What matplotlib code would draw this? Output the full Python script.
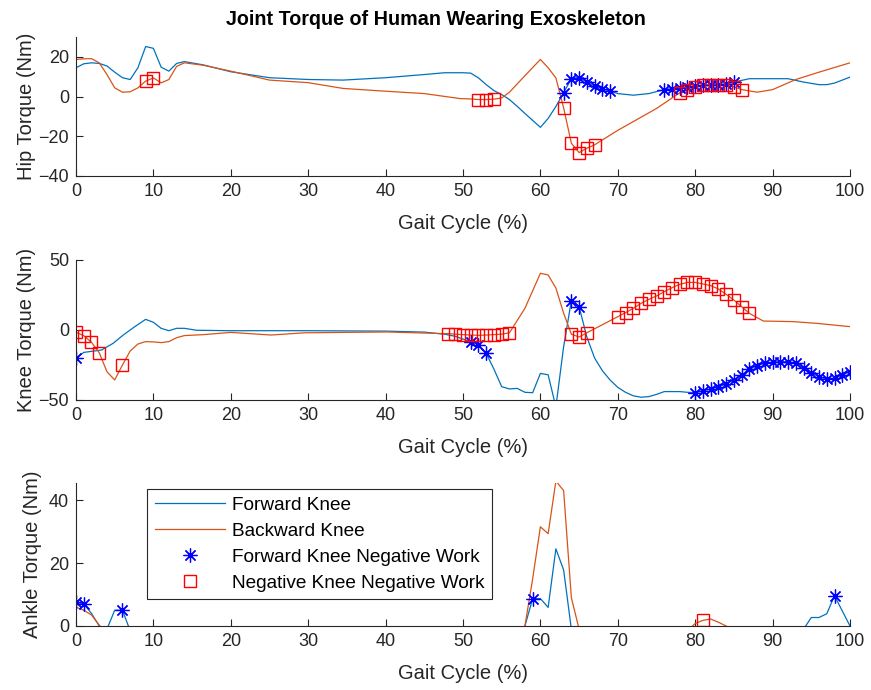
import numpy as np
import matplotlib.pyplot as plt

# MATLAB-ish colours
C_FWD = "#0072BD"
C_BWD = "#D95319"

# ---- hip (top panel) ----
hip_fwd_x = [0, 1, 2, 3, 4, 5, 6, 7, 8, 9, 10, 11, 12, 13, 14, 16.4, 20, 25, 30, 34.5, 40, 45, 47.6,
             50, 51, 52, 53, 54, 55, 56, 57, 58, 59, 60, 61, 62, 63, 64, 65, 66, 67, 68, 69, 70,
             72, 74, 76, 77, 78, 79, 80, 81, 82, 83, 84, 85, 87, 90, 92, 94, 96, 97, 98, 100]
hip_fwd_y = [14.5, 16.5, 17.0, 16.7, 15.4, 12.3, 9.5, 8.6, 14.5, 25.2, 24.3, 14.8, 12.8, 16.7, 17.6, 16, 12.5,
             9.5, 8.6, 8.3, 9.5, 11.1, 12.0, 12.0, 11.8, 9.4, 6.0, 3.0, 1.0, -1.5, -4.9, -8.5, -12,
             -15.5, -11, -5, 1.9, 9.0, 9.5, 7.3, 5.2, 3.9, 2.7, 1.5, 0.7, 1.5, 3.5, 3.9, 4.4, 4.9, 5.4,
             5.7, 5.7, 6.0, 6.4, 7.3, 9.0, 9.0, 9.0, 7.3, 6.0, 6.0, 6.8, 9.8]
hip_bwd_x = [0, 1, 2, 3, 4, 5, 6, 7, 8, 9, 10, 11, 12, 13, 14, 16.4, 20, 25, 30, 34.5, 40, 45, 49.6,
             51, 52, 53, 54, 55, 56, 58, 60, 61, 62, 63, 64, 65, 66, 67, 70, 75, 78, 79, 80, 81, 82,
             83, 84, 85, 86, 88, 90, 93, 96, 100]
hip_bwd_y = [18.7, 19.0, 19.1, 17.0, 11.1, 4.4, 2.2, 2.4, 4.4, 7.8, 9.4, 6.9, 8.6, 15.2, 17.0, 15.8, 12.8,
             8.3, 7.0, 4.1, 2.7, 1.5, -1.0, -1.2, -1.5, -1.5, -1.3, -0.7, 2.2, 10.5, 18.7, 14.5, 9.4,
             -5.7, -23.5, -28.2, -26.0, -24.3, -17, -6, 1.9, 3.2, 4.7, 5.6, 6.0, 6.0, 5.6, 4.9, 3.5,
             2.2, 3.5, 8.6, 12.3, 17.0]
hip_star_x = [63, 64, 65, 66, 67, 68, 69, 76, 77, 78, 79, 80, 81, 82, 83, 84, 85]
hip_star_y = [1.9, 9.0, 9.5, 7.3, 5.2, 3.9, 2.7, 3.5, 3.9, 4.4, 4.9, 5.4, 5.7, 5.7, 6.0, 6.4, 7.3]
hip_sq_x = [9, 10, 52, 53, 54, 63, 64, 65, 66, 67, 78, 79, 80, 81, 82, 83, 84, 85, 86]
hip_sq_y = [7.8, 9.4, -1.5, -1.5, -1.3, -5.7, -23.5, -28.2, -26.0, -24.3, 1.9, 3.2, 4.7, 5.6, 6.0, 6.0,
            5.6, 4.9, 3.5]

# ---- knee (middle panel) ----
knee_fwd_x = [0, 1, 3.3, 4.8, 6.1, 7.6, 9, 10, 11, 12, 13, 14, 15.6, 20, 30, 40, 45, 47.7, 49, 50,
              51, 52, 53, 54, 55, 56, 57, 58, 59, 60, 61, 62, 63, 64, 65, 66, 67, 68, 69, 70, 71,
              72, 73, 74, 75, 76, 78, 79, 80, 81, 82, 83, 84, 85, 86, 87, 88, 89, 90, 91, 92, 93,
              94, 95, 96, 97, 98, 99, 100]
knee_fwd_y = [-20.2, -16, -14.3, -9.5, -3.6, 2.4, 7.6, 5.5, 1.2, -0.5, 1.2, 1.2, -0.2, -0.5, -0.5, -0.8,
              -1.5, -3.1, -4.5, -6.5, -8.3, -10.7, -16.7, -28, -40.5, -42.1, -41.7, -44.5, -44.8, -31,
              -32, -55, -12, 21.0, 16.7, -5, -20, -29, -35.7, -41, -44.5, -47, -48, -47.6, -46, -44,
              -44, -44.5, -44.8, -43.3, -42.1, -40.5, -38.6, -35.7, -32.1, -28.1, -25.5, -23.8, -23.1,
              -22.6, -22.6, -23.8, -26.9, -30.9, -33.3, -35.2, -34.5, -32.1, -29.8]
knee_bwd_x = [0, 1, 2, 3, 4, 5, 6, 7, 8, 9, 10, 11, 12, 13, 14, 16.5, 20, 25.2, 29.5, 40.2, 47.7,
              48, 49, 50, 51, 52, 53, 54, 55, 56, 58, 60, 61, 62, 63, 64, 65, 66, 70, 71, 72, 73,
              74, 75, 76, 77, 78, 79, 80, 81, 82, 83, 84, 85, 86, 87, 88.8, 92.6, 95.6, 100]
knee_bwd_y = [-1.7, -4, -8.8, -16.2, -29.8, -35.7, -25, -15, -10, -8.3, -8.5, -9, -8.3, -5.5, -4, -3.3,
              -1.7, -3.6, -2, -1.4, -2.6, -2.5, -3, -3.3, -3.6, -3.8, -3.6, -3.3, -3, -2, 15.5, 40.5,
              39.3, 30, 12, -3, -5, -2, 9.5, 12.4, 15.5, 19, 21.9, 24.3, 27.4, 30.2, 32.6, 34, 34,
              32.9, 31.7, 29.3, 25.5, 21.4, 16.7, 11.9, 6.4, 6, 4.8, 2.4]
knee_star_x = [0, 51, 52, 53, 64, 65] + list(range(80, 101))
knee_star_y = [-20.2, -8.3, -10.7, -16.7, 21.0, 16.7,
               -44.8, -43.3, -42.1, -40.5, -38.6, -35.7, -32.1, -28.1, -25.5, -23.8, -23.1,
               -22.6, -22.6, -23.8, -26.9, -30.9, -33.3, -35.2, -34.5, -32.1, -29.8]
knee_sq_x = [0, 1, 2, 3, 6, 48, 49, 50, 51, 52, 53, 54, 55, 56, 64, 65, 66] + list(range(70, 88))
knee_sq_y = [-1.7, -4, -8.8, -16.2, -25, -2.5, -3, -3.3, -3.6, -3.8, -3.6, -3.3, -3, -2, -3, -5, -2,
             9.5, 12.4, 15.5, 19, 21.9, 24.3, 27.4, 30.2, 32.6, 34, 34, 32.9, 31.7, 29.3, 25.5,
             21.4, 16.7, 11.9]

# ---- ankle (bottom panel) ----
ank_fwd_x = [0, 1, 2, 3, 4, 5, 6, 7, 8, 57, 58, 59, 60, 61, 62, 63, 64, 65, 93, 94, 95, 96, 97, 98, 99, 100]
ank_fwd_y = [7.5, 7, 4, 0, -1, 5, 5, -1.5, -5, -5, 0, 8.7, 8.7, 5.9, 24.5, 17.8, -1, -5, -5, -1, 2.7,
             2.7, 3.9, 9.6, 4.8, 0]
ank_bwd_x = [0, 1, 2, 3, 4, 57, 58, 59, 60, 61, 62, 63, 64, 65, 66, 78, 79, 80, 81, 82, 83, 84, 85, 86]
ank_bwd_y = [6, 5, 3.5, 0.3, -3, -3, 0, 15, 31.5, 29.3, 46, 43, 9, -1, -5, -5, -1.5, 0.8, 1.8, 2.2,
             1.2, 0, -1.5, -5]
ank_star_x = [0, 1, 6, 59, 98]
ank_star_y = [7.5, 7, 5, 8.7, 9.6]
ank_sq_x = [81]
ank_sq_y = [1.8]

plt.rcParams['font.family'] = ['Liberation Sans', 'DejaVu Sans']
TXT = "#262626"
STAR = (8, 2, 0)  # asterisk, like MATLAB '*'

fig = plt.figure(figsize=(8.71, 6.90), dpi=100)
L, W = 76 / 871, 774 / 871
axes_px = [(37, 176), (260, 400), (483, 626)]
ylab_px = [27, 27, 33]   # x centre of the y labels
panels = [
    (hip_fwd_x, hip_fwd_y, hip_bwd_x, hip_bwd_y, hip_star_x, hip_star_y, hip_sq_x, hip_sq_y,
     "Hip Torque (Nm)", (-40, 30), [-40, -20, 0, 20]),
    (knee_fwd_x, knee_fwd_y, knee_bwd_x, knee_bwd_y, knee_star_x, knee_star_y, knee_sq_x, knee_sq_y,
     "Knee Torque (Nm)", (-50, 50), [-50, 0, 50]),
    (ank_fwd_x, ank_fwd_y, ank_bwd_x, ank_bwd_y, ank_star_x, ank_star_y, ank_sq_x, ank_sq_y,
     "Ankle Torque (Nm)", (0, 45.4), [0, 20, 40]),
]

axs = []
for (top, bot), lx, p in zip(axes_px, ylab_px, panels):
    fx, fy, bx, by, sx, sy, qx, qy, ylab, ylim, yt = p
    ax = fig.add_axes([L, 1 - bot / 690, W, (bot - top) / 690])
    h1, = ax.plot(fx, fy, color=C_FWD, lw=0.9, label="Forward Knee")
    h2, = ax.plot(bx, by, color=C_BWD, lw=0.9, label="Backward Knee")
    h3, = ax.plot(sx, sy, ls="none", marker=STAR, ms=10, mew=0.9, color="#0000FF",
                  label="Forward Knee Negative Work")
    h4, = ax.plot(qx, qy, ls="none", marker="s", ms=8, mew=1.0, mfc="none", mec="#FF0000",
                  label="Negative Knee Negative Work")
    ax.set_xlim(0, 100)
    ax.set_ylim(*ylim)
    ax.set_xticks(range(0, 101, 10))
    ax.set_yticks(yt)
    ax.set_xlabel("Gait Cycle (%)", fontsize=14.5, color=TXT, labelpad=10)
    ax.set_ylabel(ylab, fontsize=14.5, color=TXT, va="center")
    ax.yaxis.set_label_coords((lx - 76) / 774, 0.5)
    ax.tick_params(direction="in", length=5, width=0.8, colors=TXT, labelsize=13, pad=5)
    for s in ["top", "right"]:
        ax.spines[s].set_visible(False)
    for s in ["left", "bottom"]:
        ax.spines[s].set_color(TXT)
        ax.spines[s].set_linewidth(0.8)
    axs.append(ax)

fig.suptitle("Joint Torque of Human Wearing Exoskeleton", fontsize=14.2, fontweight="bold",
             x=0.5, y=1 - 10 / 690, va="top")

leg = axs[2].legend(handles=[h1, h2, h3, h4], loc="upper left", borderaxespad=0,
                    bbox_to_anchor=(147 / 871, 1 - 489 / 690), bbox_transform=fig.transFigure,
                    fontsize=13.7, frameon=True, fancybox=False, edgecolor=TXT, framealpha=1,
                    handlelength=3.7, borderpad=0.4, labelspacing=0.45, handletextpad=0.35)
leg.get_frame().set_linewidth(0.8)

fig.savefig("out.png", dpi=100)
